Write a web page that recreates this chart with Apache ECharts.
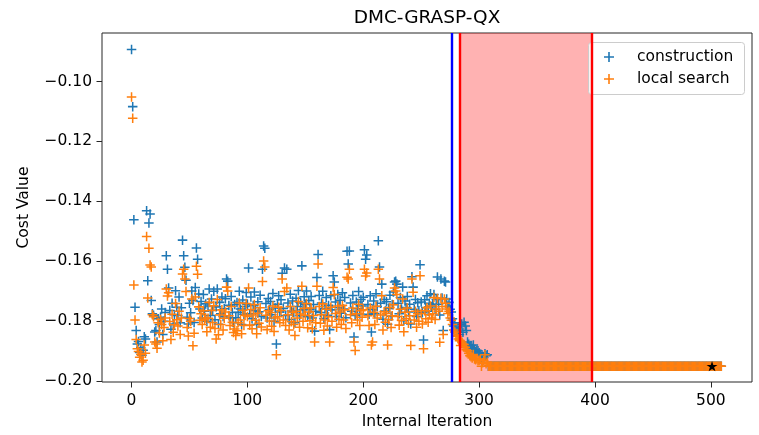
<!DOCTYPE html>
<html><head><meta charset="utf-8">
<script src="https://cdn.jsdelivr.net/npm/echarts@6/dist/echarts.min.js"></script>
<style>html,body{margin:0;padding:0;background:#fff}#c{width:759px;height:435px}</style>
</head><body><div id="c"></div><script>
const titleText = 'DMC-GRASP-QX';
const xAxisName = 'Internal Iteration';
const yAxisName = 'Cost Value';
const seriesNames = ['construction', 'local search'];
const xTicks = [0, 100, 200, 300, 400, 500];
const yTicks = [-0.20, -0.18, -0.16, -0.14, -0.12, -0.10];

// construction cost per internal iteration 0..309
const constructionHead = [
-0.0893,-0.1084,-0.1462,-0.1754,-0.1832,-0.1877,-0.1869,-0.1905,-0.1889,-0.1915,
-0.1898,-0.1853,-0.1860,-0.1432,-0.1666,-0.1473,-0.1443,-0.1732,-0.1776,-0.1781,
-0.1837,-0.1832,-0.1870,-0.1793,-0.1812,-0.1788,-0.1760,-0.1845,-0.1801,-0.1772,
-0.1582,-0.1627,-0.1690,-0.1765,-0.1828,-0.1741,-0.1810,-0.1779,-0.1699,-0.1754,
-0.1782,-0.1720,-0.1806,-0.1756,-0.1530,-0.1582,-0.1621,-0.1664,-0.1788,-0.1810,
-0.1741,-0.1773,-0.1700,-0.1732,-0.1805,-0.1688,-0.1556,-0.1594,-0.1710,-0.1760,
-0.1735,-0.1790,-0.1712,-0.1768,-0.1743,-0.1801,-0.1750,-0.1693,-0.1782,-0.1727,
-0.1764,-0.1701,-0.1796,-0.1753,-0.1693,-0.1811,-0.1738,-0.1776,-0.1720,-0.1785,
-0.1759,-0.1726,-0.1660,-0.1667,-0.1748,-0.1790,-0.1718,-0.1772,-0.1806,-0.1745,
-0.1789,-0.1738,-0.1771,-0.1701,-0.1760,-0.1812,-0.1730,-0.1778,-0.1752,-0.1705,
-0.1744,-0.1623,-0.1776,-0.1720,-0.1793,-0.1748,-0.1703,-0.1765,-0.1812,-0.1736,
-0.1769,-0.1714,-0.1785,-0.1627,-0.1550,-0.1557,-0.1742,-0.1790,-0.1725,-0.1762,
-0.1735,-0.1779,-0.1708,-0.1801,-0.1757,-0.1877,-0.1744,-0.1716,-0.1770,-0.1729,
-0.1641,-0.1758,-0.1623,-0.1782,-0.1627,-0.1740,-0.1795,-0.1711,-0.1767,-0.1733,
-0.1771,-0.1806,-0.1724,-0.1752,-0.1698,-0.1783,-0.1740,-0.1616,-0.1763,-0.1719,
-0.1744,-0.1700,-0.1786,-0.1732,-0.1761,-0.1718,-0.1790,-0.1745,-0.1834,-0.1768,
-0.1655,-0.1578,-0.1715,-0.1772,-0.1740,-0.1701,-0.1792,-0.1759,-0.1722,-0.1781,
-0.1748,-0.1829,-0.1716,-0.1763,-0.1649,-0.1670,-0.1737,-0.1785,-0.1712,-0.1756,
-0.1731,-0.1774,-0.1706,-0.1760,-0.1722,-0.1789,-0.1567,-0.1610,-0.1566,-0.1740,
-0.1768,-0.1715,-0.1854,-0.1782,-0.1737,-0.1759,-0.1702,-0.1777,-0.1728,-0.1750,
-0.1721,-0.1562,-0.1594,-0.1580,-0.1745,-0.1778,-0.1716,-0.1837,-0.1762,-0.1733,
-0.1776,-0.1709,-0.1752,-0.1532,-0.1620,-0.1741,-0.1677,-0.1794,-0.1728,-0.1767,
-0.1736,-0.1811,-0.1758,-0.1714,-0.1784,-0.1745,-0.1703,-0.1670,-0.1667,-0.1677,
-0.1741,-0.1776,-0.1722,-0.1760,-0.1687,-0.1799,-0.1733,-0.1755,-0.1718,-0.1770,
-0.1744,-0.1810,-0.1652,-0.1687,-0.1761,-0.1728,-0.1785,-0.1739,-0.1766,-0.1612,
-0.1737,-0.1773,-0.1864,-0.1729,-0.1755,-0.1716,-0.1768,-0.1741,-0.1709,-0.1752,
-0.1745,-0.1712,-0.1761,-0.1728,-0.1653,-0.1744,-0.1780,-0.1660,-0.1723,-0.1832,
-0.1667,-0.1670,-0.1727,-0.1752,-0.1738,-0.1761,-0.1770,-0.1793,-0.1817,-0.1806,
-0.1822,-0.1835,-0.1830,-0.1845,-0.1812,-0.1810,-0.1838,-0.1804,-0.1817,-0.1832,
-0.1870,-0.1878,-0.1887,-0.1882,-0.1893,-0.1880,-0.1896,-0.1903,-0.1898,-0.1900,
-0.1906,-0.1912,-0.1930,-0.1918,-0.1922,-0.1910,-0.1916,-0.1913,-0.1951,-0.1951
];

// local search cost per internal iteration 0..309
const localSearchHead = [
-0.1052,-0.1123,-0.1680,-0.1797,-0.1862,-0.1893,-0.1902,-0.1921,-0.1912,-0.1937,
-0.1931,-0.1880,-0.1908,-0.1518,-0.1723,-0.1557,-0.1613,-0.1620,-0.1779,-0.1786,
-0.1870,-0.1877,-0.1891,-0.1806,-0.1840,-0.1795,-0.1812,-0.1866,-0.1822,-0.1790,
-0.1693,-0.1717,-0.1706,-0.1802,-0.1862,-0.1778,-0.1838,-0.1813,-0.1742,-0.1796,
-0.1817,-0.1768,-0.1845,-0.1790,-0.1643,-0.1627,-0.1660,-0.1702,-0.1822,-0.1850,
-0.1792,-0.1801,-0.1727,-0.1883,-0.1841,-0.1720,-0.1617,-0.1644,-0.1753,-0.1798,
-0.1776,-0.1812,-0.1766,-0.1795,-0.1790,-0.1836,-0.1791,-0.1738,-0.1821,-0.1765,
-0.1805,-0.1749,-0.1825,-0.1860,-0.1728,-0.1846,-0.1780,-0.1812,-0.1763,-0.1830,
-0.1791,-0.1770,-0.1687,-0.1700,-0.1783,-0.1815,-0.1752,-0.1804,-0.1839,-0.1827,
-0.1849,-0.1833,-0.1806,-0.1740,-0.1797,-0.1843,-0.1764,-0.1815,-0.1781,-0.1742,
-0.1785,-0.1690,-0.1814,-0.1762,-0.1826,-0.1780,-0.1745,-0.1798,-0.1843,-0.1774,
-0.1808,-0.1756,-0.1820,-0.1668,-0.1600,-0.1620,-0.1781,-0.1829,-0.1766,-0.1800,
-0.1772,-0.1818,-0.1750,-0.1835,-0.1790,-0.1913,-0.1786,-0.1754,-0.1806,-0.1765,
-0.1660,-0.1797,-0.1702,-0.1815,-0.1690,-0.1779,-0.1830,-0.1752,-0.1803,-0.1772,
-0.1812,-0.1849,-0.1768,-0.1790,-0.1735,-0.1821,-0.1777,-0.1684,-0.1801,-0.1758,
-0.1781,-0.1742,-0.1823,-0.1770,-0.1799,-0.1757,-0.1826,-0.1782,-0.1870,-0.1806,
-0.1684,-0.1610,-0.1752,-0.1808,-0.1779,-0.1743,-0.1831,-0.1797,-0.1761,-0.1817,
-0.1786,-0.1870,-0.1754,-0.1801,-0.1688,-0.1712,-0.1775,-0.1821,-0.1750,-0.1794,
-0.1770,-0.1812,-0.1748,-0.1797,-0.1763,-0.1825,-0.1654,-0.1660,-0.1627,-0.1779,
-0.1806,-0.1757,-0.1870,-0.1899,-0.1776,-0.1797,-0.1744,-0.1815,-0.1766,-0.1788,
-0.1763,-0.1627,-0.1650,-0.1640,-0.1783,-0.1815,-0.1757,-0.1880,-0.1870,-0.1771,
-0.1812,-0.1751,-0.1790,-0.1627,-0.1660,-0.1780,-0.1716,-0.1830,-0.1769,-0.1804,
-0.1775,-0.1880,-0.1796,-0.1755,-0.1822,-0.1783,-0.1746,-0.1690,-0.1700,-0.1712,
-0.1785,-0.1814,-0.1761,-0.1798,-0.1727,-0.1836,-0.1771,-0.1792,-0.1757,-0.1808,
-0.1783,-0.1882,-0.1660,-0.1704,-0.1797,-0.1768,-0.1821,-0.1776,-0.1801,-0.1649,
-0.1775,-0.1810,-0.1893,-0.1766,-0.1793,-0.1756,-0.1804,-0.1779,-0.1750,-0.1790,
-0.1776,-0.1722,-0.1795,-0.1760,-0.1725,-0.1768,-0.1871,-0.1724,-0.1752,-0.1845,
-0.1727,-0.1741,-0.1760,-0.1775,-0.1768,-0.1790,-0.1798,-0.1812,-0.1830,-0.1837,
-0.1848,-0.1852,-0.1860,-0.1866,-0.1882,-0.1870,-0.1877,-0.1879,-0.1888,-0.1896,
-0.1900,-0.1908,-0.1916,-0.1920,-0.1924,-0.1912,-0.1927,-0.1930,-0.1926,-0.1932,
-0.1932,-0.1928,-0.1951,-0.1940,-0.1932,-0.1913,-0.1943,-0.1938,-0.1951,-0.1951
];

// converged cost, iterations 310..509 (same for both series)
const plateau = [
-0.1951,-0.1951,-0.1951,-0.1951,-0.1951,-0.1951,-0.1951,-0.1951,-0.1951,-0.1951,
-0.1951,-0.1951,-0.1951,-0.1951,-0.1951,-0.1951,-0.1951,-0.1951,-0.1951,-0.1951,
-0.1951,-0.1951,-0.1951,-0.1951,-0.1951,-0.1951,-0.1951,-0.1951,-0.1951,-0.1951,
-0.1951,-0.1951,-0.1951,-0.1951,-0.1951,-0.1951,-0.1951,-0.1951,-0.1951,-0.1951,
-0.1951,-0.1951,-0.1951,-0.1951,-0.1951,-0.1951,-0.1951,-0.1951,-0.1951,-0.1951,
-0.1951,-0.1951,-0.1951,-0.1951,-0.1951,-0.1951,-0.1951,-0.1951,-0.1951,-0.1951,
-0.1951,-0.1951,-0.1951,-0.1951,-0.1951,-0.1951,-0.1951,-0.1951,-0.1951,-0.1951,
-0.1951,-0.1951,-0.1951,-0.1951,-0.1951,-0.1951,-0.1951,-0.1951,-0.1951,-0.1951,
-0.1951,-0.1951,-0.1951,-0.1951,-0.1951,-0.1951,-0.1951,-0.1951,-0.1951,-0.1951,
-0.1951,-0.1951,-0.1951,-0.1951,-0.1951,-0.1951,-0.1951,-0.1951,-0.1951,-0.1951,
-0.1951,-0.1951,-0.1951,-0.1951,-0.1951,-0.1951,-0.1951,-0.1951,-0.1951,-0.1951,
-0.1951,-0.1951,-0.1951,-0.1951,-0.1951,-0.1951,-0.1951,-0.1951,-0.1951,-0.1951,
-0.1951,-0.1951,-0.1951,-0.1951,-0.1951,-0.1951,-0.1951,-0.1951,-0.1951,-0.1951,
-0.1951,-0.1951,-0.1951,-0.1951,-0.1951,-0.1951,-0.1951,-0.1951,-0.1951,-0.1951,
-0.1951,-0.1951,-0.1951,-0.1951,-0.1951,-0.1951,-0.1951,-0.1951,-0.1951,-0.1951,
-0.1951,-0.1951,-0.1951,-0.1951,-0.1951,-0.1951,-0.1951,-0.1951,-0.1951,-0.1951,
-0.1951,-0.1951,-0.1951,-0.1951,-0.1951,-0.1951,-0.1951,-0.1951,-0.1951,-0.1951,
-0.1951,-0.1951,-0.1951,-0.1951,-0.1951,-0.1951,-0.1951,-0.1951,-0.1951,-0.1951,
-0.1951,-0.1951,-0.1951,-0.1951,-0.1951,-0.1951,-0.1951,-0.1951,-0.1951,-0.1951,
-0.1951,-0.1951,-0.1951,-0.1951,-0.1951,-0.1951,-0.1951,-0.1951,-0.1951,-0.1951
];

const blueLineX = [276];
const redLineX = [283, 397];
const shadedSpan = [283, 397];
const bestPoint = [501, -0.1951];

const construction = constructionHead.concat(plateau);
const localSearch = localSearchHead.concat(plateau);
const toXY = arr => arr.map((v, i) => [i, v]);

const FONT = 'DejaVu Sans';
const plusPath = 'path://M0,4.2H10V5.8H0Z M4.2,0H5.8V10H4.2Z';
const starPath = 'path://M5,0L6.123,3.455L9.755,3.455L6.817,5.59L7.939,9.045L5,6.91L2.061,9.045L3.183,5.59L0.245,3.455L3.877,3.455Z';
const fmtY = v => (v < 0 ? '\u2212' : '') + Math.abs(v).toFixed(2);

const chart = echarts.init(document.getElementById('c'), null, { renderer: 'canvas' });
chart.setOption({
  animation: false,
  backgroundColor: '#ffffff',
  textStyle: { fontFamily: FONT },
  title: {
    text: titleText, left: 427, top: 9, padding: 0, textAlign: 'center',
    textStyle: { fontFamily: FONT, fontSize: 18.5, fontWeight: 'normal', color: '#000' }
  },
  grid: { left: 102, right: 7, top: 33, bottom: 52, show: true, borderColor: '#262626', borderWidth: 1, backgroundColor: 'transparent' },
  xAxis: {
    type: 'value', min: -25.5, max: 535.5,
    name: xAxisName, nameLocation: 'middle', nameGap: 32,
    nameTextStyle: { fontFamily: FONT, fontSize: 15.5, color: '#000' },
    axisLine: { show: false, onZero: false },
    axisTick: { show: true, inside: false, length: 5.5, lineStyle: { color: '#262626', width: 1 }, customValues: xTicks },
    axisLabel: { customValues: xTicks, margin: 11, fontSize: 15.5, color: '#000', fontFamily: FONT },
    splitLine: { show: false }
  },
  yAxis: {
    type: 'value', min: -0.2004, max: -0.0838,
    name: yAxisName, nameLocation: 'middle', nameGap: 70,
    nameTextStyle: { fontFamily: FONT, fontSize: 15.5, color: '#000' },
    axisLine: { show: false, onZero: false },
    axisTick: { show: true, inside: false, length: 5.5, lineStyle: { color: '#262626', width: 1 }, customValues: yTicks },
    axisLabel: { customValues: yTicks, margin: 10, fontSize: 15.5, color: '#000', fontFamily: FONT, formatter: fmtY },
    splitLine: { show: false }
  },
  legend: {
    data: [{ name: seriesNames[0], icon: plusPath }, { name: seriesNames[1], icon: plusPath }],
    orient: 'vertical', left: 604, top: 48, padding: 0,
    itemWidth: 10, itemHeight: 10, itemGap: 4,
    textStyle: { fontFamily: FONT, fontSize: 15.5, color: '#000', lineHeight: 18, padding: [0, 0, 0, 18] },
    itemStyle: { borderWidth: 0 },
    selectedMode: false, z: 10
  },
  graphic: [{
    type: 'rect', z: 5, silent: true,
    shape: { x: 588.5, y: 42.5, width: 156, height: 52, r: 3 },
    style: { fill: 'rgba(255,255,255,0.8)', stroke: '#cccccc', lineWidth: 1 }
  }],
  series: [
    {
      name: 'span', type: 'line', data: [], z: 1, silent: true,
      markArea: {
        silent: true, itemStyle: { color: 'rgba(255,0,0,0.3)', borderWidth: 0 },
        label: { show: false },
        data: [[{ xAxis: shadedSpan[0] }, { xAxis: shadedSpan[1] }]]
      }
    },
    {
      name: seriesNames[0], type: 'scatter', data: toXY(construction), z: 2,
      symbol: plusPath, symbolSize: 9.5,
      itemStyle: { color: '#1f77b4', opacity: 1 }, emphasis: { disabled: true }, silent: true
    },
    {
      name: seriesNames[1], type: 'scatter', data: toXY(localSearch), z: 3,
      symbol: plusPath, symbolSize: 9.5,
      itemStyle: { color: '#ff7f0e', opacity: 1 }, emphasis: { disabled: true }, silent: true
    },
    {
      name: 'vlines', type: 'line', data: [], z: 4, silent: true,
      markLine: {
        silent: true, symbol: 'none', label: { show: false },
        lineStyle: { type: 'solid', width: 2.4 },
        data: [
          { xAxis: blueLineX[0], lineStyle: { color: '#0000ff', type: 'solid', width: 2.4 } },
          { xAxis: redLineX[0], lineStyle: { color: '#ff0000', type: 'solid', width: 2.4 } },
          { xAxis: redLineX[1], lineStyle: { color: '#ff0000', type: 'solid', width: 2.4 } }
        ]
      }
    },
    {
      name: 'best', type: 'scatter', data: [bestPoint], z: 5,
      symbol: starPath, symbolSize: 11, symbolKeepAspect: true,
      itemStyle: { color: '#000000', opacity: 1 }, emphasis: { disabled: true }, silent: true
    }
  ]
});
</script></body></html>
